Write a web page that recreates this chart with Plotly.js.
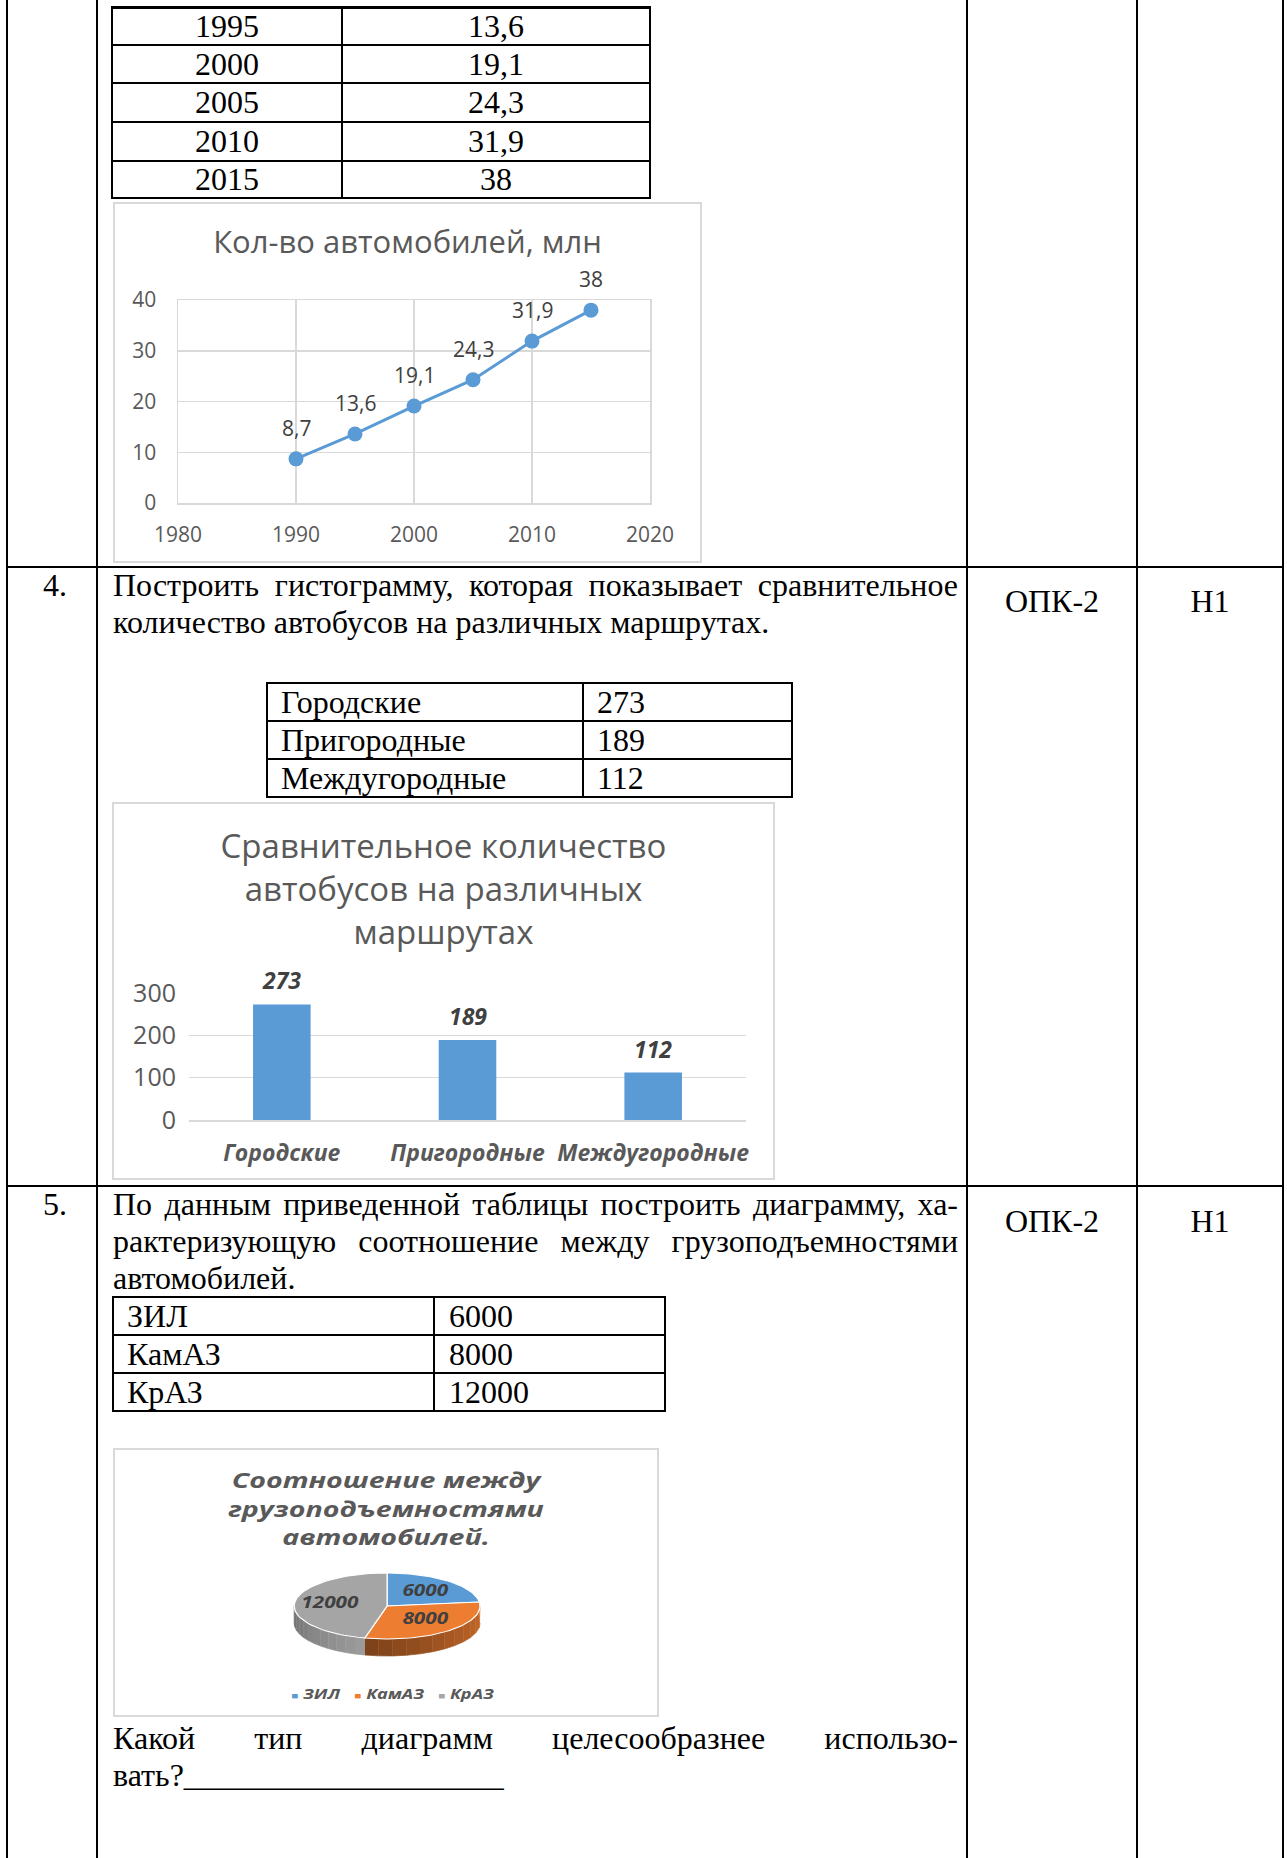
<!DOCTYPE html>
<html><head><meta charset="utf-8">
<script src="https://cdn.plot.ly/plotly-3.0.1.min.js"></script>
<style>
body{margin:0;background:#fff;}
#page{position:relative;width:1287px;height:1858px;overflow:hidden;background:#fff;font-family:"Liberation Serif","Times New Roman",serif;font-size:32px;color:#000;}
.ln{position:absolute;background:#000;}
.t{position:absolute;white-space:nowrap;line-height:37px;}
.j{position:absolute;white-space:normal;line-height:37px;text-align:justify;text-align-last:justify;}
.frame{position:absolute;box-sizing:border-box;border:2px solid #D9D9D9;pointer-events:none;}
.plot{position:absolute;}
</style></head><body><div id="page"></div>
<script>
// ---------- DATA ----------
const carYears = [1990, 1995, 2000, 2005, 2010, 2015];
const carCounts = [8.7, 13.6, 19.1, 24.3, 31.9, 38];
const carTableYears = [1995, 2000, 2005, 2010, 2015];
const carTableCounts = [13.6, 19.1, 24.3, 31.9, 38];
const carTitle = 'Кол-во автомобилей, млн';

const busRoutes = ['Городские', 'Пригородные', 'Междугородные'];
const busCounts = [273, 189, 112];
const busTitle = 'Сравнительное количество<br>автобусов на различных<br>маршрутах';

const truckModels = ['ЗИЛ', 'КамАЗ', 'КрАЗ'];
const truckCapacity = [6000, 8000, 12000];
const truckTitle = 'Соотношение между<br>грузоподъемностями<br>автомобилей.';

const task4Lines = ['Построить гистограмму, которая показывает сравнительное', 'количество автобусов на различных маршрутах.'];
const task5Lines = ['По данным приведенной таблицы построить диаграмму, ха-', 'рактеризующую соотношение между грузоподъемностями', 'автомобилей.'];
const task5Question = ['Какой тип диаграмм целесообразнее использо-', 'вать?' + '_'.repeat(20)];
const competence = 'ОПК-2';
const level = 'Н1';

// ---------- helpers ----------
const page = document.getElementById('page');
function add(cls, css, html) {
  const d = document.createElement('div');
  d.className = cls;
  Object.assign(d.style, css);
  if (html !== undefined) d.innerHTML = html;
  page.appendChild(d);
  return d;
}
function hl(x1, x2, y, w) { add('ln', {left: x1 + 'px', top: (y - w / 2) + 'px', width: (x2 - x1) + 'px', height: w + 'px'}); }
function vl(x, y1, y2, w) { add('ln', {left: (x - w / 2) + 'px', top: y1 + 'px', width: w + 'px', height: (y2 - y1) + 'px'}); }
const fmt = v => String(v).replace('.', ',');

// ---------- outer table ----------
const outerCols = [7, 97, 967, 1137, 1283];
const outerRows = [567, 1186];
outerCols.forEach(x => vl(x, 0, 1858, 2));
outerRows.forEach(y => hl(6, 1284, y, 2));

// ---------- row 3: car table ----------
(function () {
  const cx = [112, 342, 650];
  const ry = [7, 45, 83, 122, 161, 198];
  cx.forEach(x => vl(x, 6, 199, 2));
  ry.forEach((y, i) => hl(111, 651, y, i === 0 ? 3 : 2));
  carTableYears.forEach((yr, i) => {
    const top = ry[i], h = ry[i + 1] - ry[i];
    add('t', {left: cx[0] + 'px', width: (cx[1] - cx[0]) + 'px', top: top + 'px', height: h + 'px', lineHeight: h + 'px', textAlign: 'center'}, String(yr));
    add('t', {left: cx[1] + 'px', width: (cx[2] - cx[1]) + 'px', top: top + 'px', height: h + 'px', lineHeight: h + 'px', textAlign: 'center'}, fmt(carTableCounts[i]));
  });
})();

// ---------- row 4 ----------
add('t', {left: '43px', top: '567px'}, '4.');
add('j', {left: '113px', top: '567px', width: '845px'}, task4Lines[0]);
add('t', {left: '113px', top: '604px'}, task4Lines[1]);
add('t', {left: '967px', width: '170px', top: '583px', textAlign: 'center'}, competence);
add('t', {left: '1137px', width: '146px', top: '583px', textAlign: 'center'}, level);
(function () {
  const cx = [267, 583, 792];
  const ry = [683, 721, 759, 797];
  cx.forEach(x => vl(x, 682, 798, 2));
  ry.forEach(y => hl(266, 793, y, 2));
  busRoutes.forEach((r, i) => {
    const top = ry[i], h = ry[i + 1] - ry[i];
    add('t', {left: (cx[0] + 14) + 'px', top: top + 'px', height: h + 'px', lineHeight: h + 'px'}, r);
    add('t', {left: (cx[1] + 14) + 'px', top: top + 'px', height: h + 'px', lineHeight: h + 'px'}, String(busCounts[i]));
  });
})();

// ---------- row 5 ----------
add('t', {left: '43px', top: '1186px'}, '5.');
add('j', {left: '113px', top: '1186px', width: '845px'}, task5Lines[0]);
add('j', {left: '113px', top: '1223px', width: '845px'}, task5Lines[1]);
add('t', {left: '113px', top: '1260px'}, task5Lines[2]);
add('t', {left: '967px', width: '170px', top: '1203px', textAlign: 'center'}, competence);
add('t', {left: '1137px', width: '146px', top: '1203px', textAlign: 'center'}, level);
(function () {
  const cx = [113, 434, 665];
  const ry = [1297, 1335, 1373, 1411];
  cx.forEach(x => vl(x, 1296, 1412, 2));
  ry.forEach(y => hl(112, 666, y, 2));
  truckModels.forEach((m, i) => {
    const top = ry[i], h = ry[i + 1] - ry[i];
    add('t', {left: (cx[0] + 14) + 'px', top: top + 'px', height: h + 'px', lineHeight: h + 'px'}, m);
    add('t', {left: (cx[1] + 15) + 'px', top: top + 'px', height: h + 'px', lineHeight: h + 'px'}, String(truckCapacity[i]));
  });
})();
add('j', {left: '113px', top: '1720px', width: '845px'}, task5Question[0]);
add('t', {left: '113px', top: '1757px'}, task5Question[1]);

// ---------- charts ----------
const SANS = '"Open Sans", "Noto Sans", sans-serif';
const cfg = {displayModeBar: false, staticPlot: true};

// Line chart
(function () {
  const L = 113, T = 202, W = 589, H = 361;
  const d = add('plot', {left: L + 'px', top: T + 'px', width: W + 'px', height: H + 'px'});
  add('frame', {left: L + 'px', top: T + 'px', width: W + 'px', height: H + 'px'});
  const trace = {
    x: carYears, y: carCounts, type: 'scatter', mode: 'lines+markers',
    line: {color: '#5B9BD5', width: 3}, marker: {color: '#5B9BD5', size: 15}, hoverinfo: 'none'
  };
  const ann = carYears.map((yr, i) => ({
    x: yr, y: carCounts[i], text: fmt(carCounts[i]), showarrow: false, yshift: 31,
    font: {family: SANS, size: 21, color: '#404040'}
  }));
  const axisCommon = {showgrid: true, gridcolor: '#D9D9D9', gridwidth: 1.5, zeroline: false,
    showline: true, mirror: true, linecolor: '#D9D9D9', linewidth: 1.5, ticks: '',
    tickfont: {family: SANS, size: 21, color: '#595959'}, fixedrange: true};
  Plotly.newPlot(d, [trace], {
    width: W, height: H, margin: {l: 65, r: 52, t: 98, b: 60},
    paper_bgcolor: '#fff', plot_bgcolor: '#fff', showlegend: false,
    title: {text: carTitle, font: {family: SANS, size: 31, color: '#595959'}, x: 0.5, xanchor: 'center', y: 1 - 40 / H, yref: 'container', yanchor: 'middle'},
    xaxis: Object.assign({}, axisCommon, {range: [1980, 2020], tick0: 1980, dtick: 10, ticklabelstandoff: 12}),
    yaxis: Object.assign({}, axisCommon, {range: [0, 40], tick0: 0, dtick: 10, ticklabelstandoff: 16}),
    annotations: ann
  }, cfg);
})();

// Bar chart
(function () {
  const L = 112, T = 802, W = 663, H = 378;
  const d = add('plot', {left: L + 'px', top: T + 'px', width: W + 'px', height: H + 'px'});
  add('frame', {left: L + 'px', top: T + 'px', width: W + 'px', height: H + 'px'});
  const trace = {x: busRoutes, y: busCounts, type: 'bar', marker: {color: '#5B9BD5'}, hoverinfo: 'none'};
  const ann = busRoutes.map((r, i) => ({
    x: r, y: busCounts[i], text: String(busCounts[i]), showarrow: false, yshift: 24,
    font: {family: SANS, size: 23, color: '#404040', weight: 'bold', style: 'italic'}
  }));
  Plotly.newPlot(d, [trace], {
    width: W, height: H, margin: {l: 77, r: 29, t: 191, b: 60},
    paper_bgcolor: '#fff', plot_bgcolor: '#fff', showlegend: false, bargap: 0.69,
    title: {text: busTitle, font: {family: SANS, size: 33, color: '#595959'}, x: 0.5, xanchor: 'center', y: 1 - 56 / H, yref: 'container', yanchor: 'middle'},
    xaxis: {showgrid: false, zeroline: false, showline: true, linecolor: '#D9D9D9', linewidth: 1.5, ticks: '',
      tickfont: {family: SANS, size: 23, color: '#595959', weight: 'bold', style: 'italic'}, ticklabelstandoff: 12, fixedrange: true},
    yaxis: {range: [0, 300], dtick: 100, showgrid: true, gridcolor: '#D9D9D9', gridwidth: 1.5, zeroline: false, showline: false, ticks: '',
      tickfont: {family: SANS, size: 25, color: '#595959'}, ticklabelstandoff: 12, fixedrange: true},
    annotations: ann
  }, cfg);
})();

// 3D-looking pie chart (horizontally stretched like the source picture)
(function () {
  const L = 113, T = 1448, W = 546, H = 269, S = 1.3;
  const IW = W / S;
  const d = add('plot', {left: L + 'px', top: T + 'px', width: IW + 'px', height: H + 'px', transform: 'scaleX(' + S + ')', transformOrigin: '0 0'});
  add('frame', {left: L + 'px', top: T + 'px', width: W + 'px', height: H + 'px'});
  const topColors = ['#5B9BD5', '#ED7D31', '#A5A5A5'];
  const sideShade = [[0.85, 0.6], [0.85, 0.52], [0.95, 0.68]];
  const cx = IW * 0.502, cy = 158, rx = 71.5, ry = 33, depth = 17;
  const total = truckCapacity.reduce((a, b) => a + b, 0);
  const pt = (a, dy) => [cx + rx * Math.sin(a * Math.PI / 180), cy - ry * Math.cos(a * Math.PI / 180) + (dy || 0)];
  const hex2rgb = h => [1, 3, 5].map(k => parseInt(h.substr(k, 2), 16));
  const shade = (h, m) => 'rgb(' + hex2rgb(h).map(c => Math.round(c * m)).join(',') + ')';
  const traces = [];
  let start = 0;
  const slices = truckCapacity.map(v => { const s = start; start += v / total * 360; return [s, start]; });
  // side walls (front half: 90..270 deg clockwise from top), shaded in segments
  slices.forEach(([a0, a1], i) => {
    const s = Math.max(a0, 90), e = Math.min(a1, 270);
    if (e <= s) return;
    const nSeg = 12;
    for (let k = 0; k < nSeg; k++) {
      const b0 = s + (e - s) * k / nSeg, b1 = s + (e - s) * (k + 1) / nSeg;
      const xs = [], ys = [];
      for (let j = 0; j <= 6; j++) { const p = pt(b0 + (b1 - b0) * j / 6); xs.push(p[0]); ys.push(p[1]); }
      for (let j = 6; j >= 0; j--) { const p = pt(b0 + (b1 - b0) * j / 6, depth); xs.push(p[0]); ys.push(p[1]); }
      const m = sideShade[i][0] + (sideShade[i][1] - sideShade[i][0]) * (k + 0.5) / nSeg;
      const col = shade(topColors[i], m);
      traces.push({x: xs, y: ys, type: 'scatter', mode: 'lines', fill: 'toself', fillcolor: col,
        line: {color: col, width: 0.6}, showlegend: false, hoverinfo: 'none'});
    }
  });
  // top faces
  slices.forEach(([a0, a1], i) => {
    const xs = [cx], ys = [cy];
    for (let a = a0; a <= a1 + 1e-9; a += (a1 - a0) / 60) { const p = pt(a); xs.push(p[0]); ys.push(p[1]); }
    xs.push(cx); ys.push(cy);
    traces.push({x: xs, y: ys, type: 'scatter', mode: 'lines', fill: 'toself', fillcolor: topColors[i],
      line: {color: '#ffffff', width: 1}, showlegend: false, hoverinfo: 'none', name: truckModels[i]});
  });
  // labels
  const lx = [], lyy = [], lt = [];
  slices.forEach(([a0, a1], i) => {
    const a = (a0 + a1) / 2 * Math.PI / 180;
    lx.push(cx + 0.62 * rx * Math.sin(a)); lyy.push(cy - 0.55 * ry * Math.cos(a)); lt.push(String(truckCapacity[i]));
  });
  traces.push({x: lx, y: lyy, text: lt, type: 'scatter', mode: 'text', textposition: 'middle center',
    textfont: {family: SANS, size: 16, color: '#404040', weight: 'bold', style: 'italic'}, showlegend: false, hoverinfo: 'none'});
  // compact legend as one line of text with coloured squares
  const legendText = truckModels.map((m, i) => '<span style="color:' + topColors[i] + ';font-size:9px">■</span>\u00A0' + m).join('\u00A0\u00A0\u00A0');
  Plotly.newPlot(d, traces, {
    width: IW, height: H, margin: {l: 0, r: 0, t: 0, b: 0},
    paper_bgcolor: 'rgba(0,0,0,0)', plot_bgcolor: 'rgba(0,0,0,0)', showlegend: false,
    title: {text: truckTitle, font: {family: SANS, size: 22, color: '#595959', weight: 'bold', style: 'italic'}, x: 0.5, xanchor: 'center', y: 1 - 40 / H, yref: 'container', yanchor: 'middle'},
    xaxis: {range: [0, IW], visible: false, fixedrange: true},
    yaxis: {range: [H, 0], visible: false, fixedrange: true},
    annotations: [{xref: 'paper', yref: 'paper', x: 0.513, y: (H - 245) / H, xanchor: 'center', yanchor: 'middle', showarrow: false,
      text: legendText, font: {family: SANS, size: 14, color: '#595959', weight: 'bold', style: 'italic'}}]
  }, cfg);
})();
</script></body></html>
